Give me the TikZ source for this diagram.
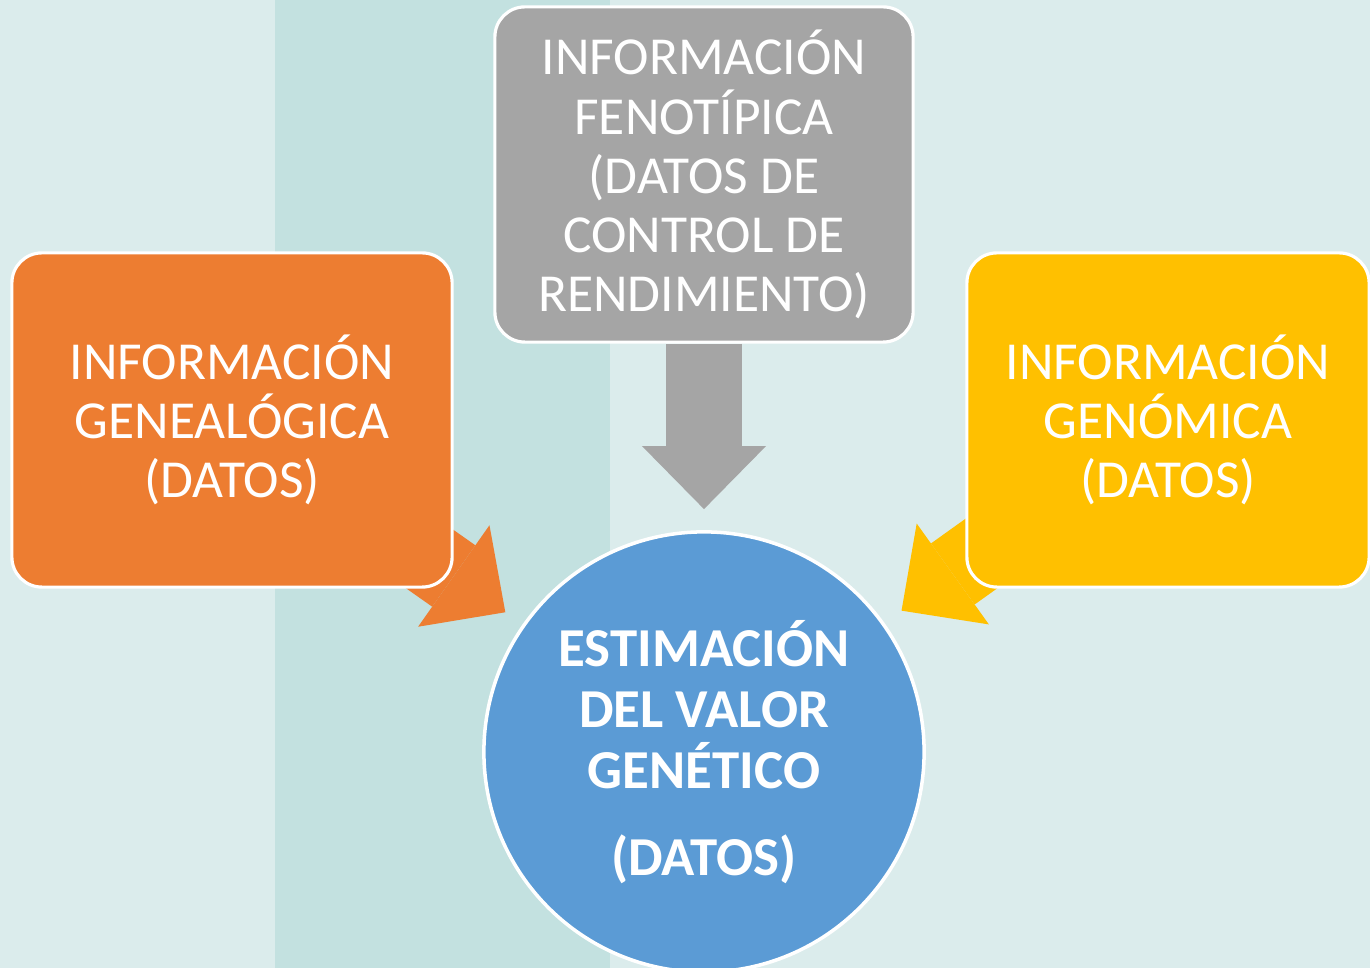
\documentclass[tikz,border=0pt]{standalone}
\usepackage{fontspec}
\setmainfont{Carlito}
\usetikzlibrary{arrows.meta}
\definecolor{fsgdgd}{HTML}{DBECEC}
\definecolor{deghgq}{HTML}{C3E1E0}
\definecolor{gfifrw}{HTML}{ED7D31}
\definecolor{azazaz}{HTML}{A5A5A5}
\definecolor{hhdqqq}{HTML}{FFC000}
\definecolor{zspsfz}{HTML}{5B9BD5}
\pgfdeclarelayer{bg}
\pgfsetlayers{bg,main}

\begin{document}
\begin{tikzpicture}[line cap=butt,line join=miter,x=0.01cm,y=-0.01cm,
  caja/.style={draw=white,line width=0.9pt,rounded corners=0.3cm,text=white,align=center,inner sep=0pt,font=\fontsize{15.2}{16.8}\selectfont},
  flecha/.style={line width=0.75cm,-{Triangle[width=1.24cm,length=0.63cm,line width=0pt]},shorten >=0.21cm}]
\useasboundingbox (0,0) rectangle (1370,968);
\clip (0,0) rectangle (1370,968);
\node[caja,fill=gfifrw,minimum width=4.40cm,minimum height=3.34cm] (gene) at (232,420) {INFORMACIÓN\\GENEALÓGICA\\(DATOS)};
\node[caja,fill=azazaz,minimum width=4.18cm,minimum height=3.35cm] (feno) at (704,174.5) {INFORMACIÓN\\FENOTÍPICA\\(DATOS DE\\CONTROL DE\\RENDIMIENTO)};
\node[caja,fill=hhdqqq,minimum width=4.02cm,minimum height=3.34cm] (geno) at (1168,420) {INFORMACIÓN\\GENÓMICA\\(DATOS)};
\node[circle,draw=white,line width=1pt,fill=zspsfz,minimum size=4.4cm,text=white,align=center,font=\bfseries\fontsize{15.6}{17.4}\selectfont] (valor) at (704,752) {ESTIMACIÓN\\DEL VALOR\\GENÉTICO\\[0.25cm](DATOS)};
\begin{pgfonlayer}{bg}
\fill[fsgdgd] (0,0) rectangle (1370,968);
\fill[deghgq] (275,0) rectangle (610,968);
% flechas hacia el valor genetico
\draw[flecha,azazaz] (feno.south) -- (valor.north);
\draw[flecha,gfifrw] (gene.center) -- (valor);
\draw[flecha,hhdqqq] (geno.center) -- (valor);
\end{pgfonlayer}
\end{tikzpicture}
\end{document}
